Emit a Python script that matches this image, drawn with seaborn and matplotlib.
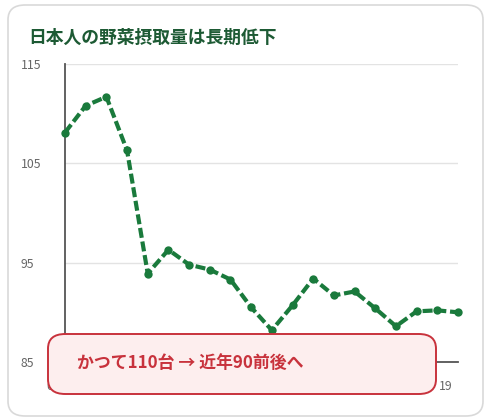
import numpy as np
import pandas as pd
import matplotlib
matplotlib.use("Agg")
import matplotlib.pyplot as plt
import matplotlib.transforms as mtransforms
from matplotlib.patches import FancyBboxPatch
import seaborn as sns

# ---- data ----
x_index = list(range(20))
intake = [108.1, 110.8, 111.7, 106.3, 93.9, 96.3, 94.8, 94.3, 93.3, 90.5,
          88.2, 90.7, 93.4, 91.7, 92.1, 90.4, 88.6, 90.1, 90.2, 90.0]
x_tick_pos = [0, 19]
x_tick_labels = ["00", "19"]
y_ticks = [85, 95, 105, 115]
title_text = "日本人の野菜摂取量は長期低下"
note_text = "かつて110台 → 近年90前後へ"

df = pd.DataFrame({"idx": x_index, "value": intake})

sns.set_theme(style="white")
plt.rcParams["font.family"] = ["Noto Sans CJK JP", "DejaVu Sans"]

W, H = 492, 419
fig = plt.figure(figsize=(W / 100, H / 100), dpi=100)

def fx(px):
    return px / W

def fy(py):
    return 1 - py / H

# card background
card = FancyBboxPatch((fx(8), fy(416)), fx(483) - fx(8), fy(5) - fy(416),
                      boxstyle="round,pad=0,rounding_size=0.035",
                      transform=fig.transFigure, facecolor="white",
                      edgecolor="#d9d9d9", linewidth=1.2, zorder=-5)
fig.patches.append(card)

ax = fig.add_axes([fx(65), fy(362), fx(458) - fx(65), fy(64) - fy(362)])
ax.set_facecolor("none")
ax.set_zorder(1)

sns.lineplot(data=df, x="idx", y="value", ax=ax, color="#1a7a3c",
             linewidth=3.0, marker="o", markersize=6.0, markeredgewidth=0,
             clip_on=False, zorder=5)
ax.lines[0].set_dashes([2.4, 0.9])

ax.set_xlim(0, 19)
ax.set_ylim(85, 115)
ax.set_xlabel("")
ax.set_ylabel("")

ax.set_yticks(y_ticks)
ax.set_yticklabels([str(v) for v in y_ticks])
ax.yaxis.grid(True, color="#e3e3e3", linewidth=1.0)
ax.set_axisbelow(True)
ax.tick_params(axis="y", length=0, pad=32, labelsize=8.8, labelcolor="#666666")
for lab in ax.get_yticklabels():
    lab.set_horizontalalignment("left")

ax.set_xticks(x_tick_pos)
ax.set_xticklabels(x_tick_labels)
ax.tick_params(axis="x", length=5, width=1.3, color="#555555", direction="out",
               labelsize=8.8, labelcolor="#666666", pad=8)
offset = mtransforms.ScaledTranslation(-12 / 100, 0, fig.dpi_scale_trans)
for lab in ax.get_xticklabels():
    lab.set_transform(lab.get_transform() + offset)

for s in ["top", "right"]:
    ax.spines[s].set_visible(False)
for s in ["left", "bottom"]:
    ax.spines[s].set_color("#555555")
    ax.spines[s].set_linewidth(1.3)

# title
fig.text(fx(28), fy(38), title_text, fontsize=12.8, fontweight="bold",
         color="#1d5a34", ha="left", va="center")

# annotation box
box = FancyBboxPatch((fx(48), fy(394)), fx(436) - fx(48), fy(334) - fy(394),
                     boxstyle="round,pad=0,rounding_size=0.035",
                     transform=fig.transFigure, facecolor="#fdeeee",
                     edgecolor="#c8323c", linewidth=1.4, zorder=10)
fig.patches.append(box)
fig.text(fx(77), fy(363), note_text, fontsize=12.2, fontweight="bold",
         color="#c8323c", ha="left", va="center", zorder=11)

fig.savefig("out.png", dpi=100)
